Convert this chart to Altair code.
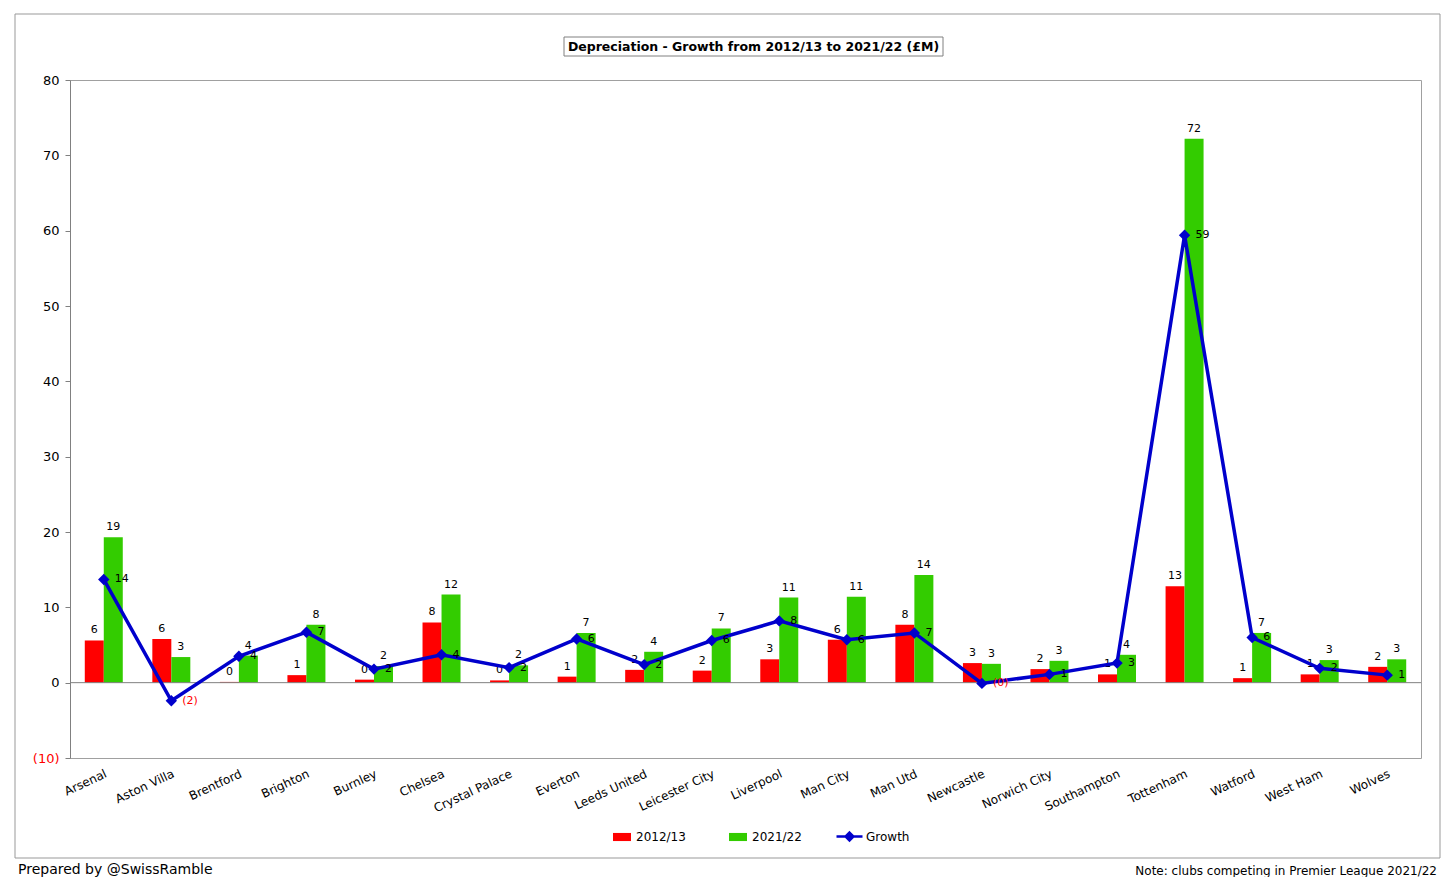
import altair as alt
import pandas as pd
import numpy as np

clubs = ["Arsenal", "Aston Villa", "Brentford", "Brighton", "Burnley", "Chelsea",
         "Crystal Palace", "Everton", "Leeds United", "Leicester City", "Liverpool",
         "Man City", "Man Utd", "Newcastle", "Norwich City", "Southampton",
         "Tottenham", "Watford", "West Ham", "Wolves"]
dep_2013 = [5.6, 5.8, 0.1, 1.0, 0.4, 8.0, 0.3, 0.8, 1.7, 1.6, 3.1, 5.7, 7.7, 2.6,
            1.8, 1.1, 12.8, 0.6, 1.1, 2.1]
dep_2022 = [19.3, 3.4, 3.6, 7.7, 2.2, 11.7, 2.3, 6.6, 4.1, 7.2, 11.3, 11.4, 14.3,
            2.5, 2.9, 3.7, 72.2, 6.6, 3.0, 3.1]
growth = [13.7, -2.4, 3.5, 6.7, 1.8, 3.7, 2.0, 5.8, 2.4, 5.6, 8.2, 5.7, 6.6, -0.1,
          1.1, 2.6, 59.4, 6.0, 1.9, 1.0]
series_names = ["2012/13", "2021/22"]
growth_name = "Growth"
y_ticks = [-10, 0, 10, 20, 30, 40, 50, 60, 70, 80]

FONT = "DejaVu Sans"


def fmt(v):
    r = int(np.floor(abs(v) + 0.5))
    return f"({r})" if v < 0 else str(r)


bars = pd.DataFrame({
    "club": clubs * 2,
    "series": [series_names[0]] * len(clubs) + [series_names[1]] * len(clubs),
    "value": dep_2013 + dep_2022,
})
bars["label"] = bars["value"].map(fmt)

gdf = pd.DataFrame({"club": clubs, "value": growth, "series": growth_name})
gdf["label"] = gdf["value"].map(fmt)

one = pd.DataFrame({"a": [0]})

W, H = 1351, 678

xscale = alt.Scale(domain=clubs, paddingInner=0.4375, paddingOuter=0.21875)
x = alt.X("club:N", scale=xscale, sort=clubs, title=None,
          axis=alt.Axis(labelAngle=-25, labelAlign="right", labelBaseline="top",
                        ticks=False, domain=False, labelFontSize=12, labelColor="black",
                        labelPadding=10, labelFont=FONT))
yscale = alt.Scale(domain=[-10, 80], nice=False, zero=False)
y = alt.Y("value:Q", scale=yscale, title=None,
          axis=alt.Axis(values=y_ticks, grid=False, tickSize=5, tickColor="#808080",
                        domainColor="#808080", labelFontSize=13, labelFont=FONT,
                        labelPadding=6,
                        labelExpr="datum.value < 0 ? '(' + abs(datum.value) + ')' : datum.value",
                        labelColor=alt.condition("datum.value < 0", alt.value("#FF0000"), alt.value("black"))))
xoff = alt.XOffset("series:N", sort=series_names, scale=alt.Scale(domain=series_names, paddingInner=0, paddingOuter=0))

bar = alt.Chart(bars).mark_bar().encode(
    x=x, xOffset=xoff, y=y,
    fill=alt.Fill("series:N",
                  scale=alt.Scale(domain=series_names, range=["#FF0000", "#33CC00"]),
                  legend=alt.Legend(orient="none", legendX=542, legendY=747,
                                    direction="horizontal", title=None,
                                    symbolType="M-1,-0.45H1V0.45H-1Z", symbolSize=324,
                                    labelFontSize=12, labelFont=FONT, labelColor="black",
                                    columnPadding=42, labelOffset=4)),
)

bar_text = alt.Chart(bars).mark_text(baseline="bottom", dy=-5, fontSize=11, font=FONT, color="black").encode(
    x=x, xOffset=xoff, y=y, text="label:N"
)

zero = alt.Chart(one).mark_rule(color="#808080", strokeWidth=1).encode(y=alt.datum(0))

line = alt.Chart(gdf).mark_line(strokeWidth=3.5).encode(
    x=x, y=y,
    stroke=alt.Stroke("series:N",
                      scale=alt.Scale(domain=[growth_name], range=["#0000CC"]),
                      legend=alt.Legend(orient="none", legendX=765, legendY=742,
                                        direction="horizontal", title=None,
                                        symbolType="M-1,0H1M0,-0.3L0.3,0L0,0.3L-0.3,0Z",
                                        symbolSize=676, symbolStrokeWidth=2.5,
                                        symbolFillColor="#0000CC",
                                        labelFontSize=12, labelFont=FONT, labelColor="black",
                                        labelOffset=2)),
)

pts = alt.Chart(gdf).mark_point(shape="diamond", filled=True, size=130, color="#0000CC", opacity=1).encode(
    x=x, y=y
)

g_text = alt.Chart(gdf).mark_text(align="left", baseline="middle", dx=11, fontSize=11, font=FONT).encode(
    x=x, y=y, text="label:N",
    color=alt.condition("datum.value < 0", alt.value("#FF0000"), alt.value("black")),
)

title_box = alt.Chart(one).mark_rect(fillOpacity=0, stroke="#808080", strokeWidth=1).encode(
    x=alt.value(494), x2=alt.value(873), y=alt.value(-43), y2=alt.value(-24)
)
title_text = alt.Chart(one).mark_text(fontSize=12.5, fontWeight="bold", font=FONT, color="black",
                                      align="center", baseline="middle").encode(
    x=alt.value(683.5), y=alt.value(-33.5),
    text=alt.value("Depreciation - Growth from 2012/13 to 2021/22 (£M)")
)
outer = alt.Chart(one).mark_rect(fillOpacity=0, stroke="#999999", strokeWidth=1).encode(
    x=alt.value(-55), x2=alt.value(1370), y=alt.value(-66), y2=alt.value(778)
)
foot_left = alt.Chart(one).mark_text(fontSize=14, font=FONT, color="black", align="left", baseline="middle").encode(
    x=alt.value(-52), y=alt.value(790), text=alt.value("Prepared by @SwissRamble")
)
foot_right = alt.Chart(one).mark_text(fontSize=12, font=FONT, color="black", align="right", baseline="middle").encode(
    x=alt.value(1367), y=alt.value(791), text=alt.value("Note: clubs competing in Premier League 2021/22")
)

chart = alt.layer(
    bar, zero, bar_text, line, pts, g_text, outer, title_box, title_text, foot_left, foot_right
).resolve_scale(fill="independent", stroke="independent").properties(
    width=W, height=H,
    autosize=alt.AutoSizeParams(type="none"),
    padding={"left": 62, "top": 72, "right": 27, "bottom": 119},
    background="white",
).configure_view(stroke="#A0A0A0", strokeWidth=1)

chart.save("out.html", embed_options={"renderer": "svg", "actions": False})
